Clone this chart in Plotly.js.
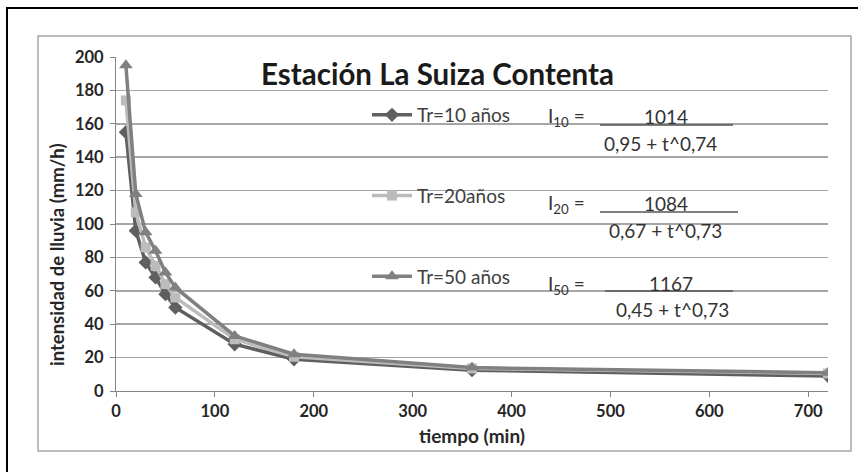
<!DOCTYPE html>
<html>
<head>
<meta charset="utf-8">
<script src="https://cdn.plot.ly/plotly-3.0.1.min.js"></script>
<style>
  html, body { margin: 0; padding: 0; background: #ffffff; }
  #chart { width: 858px; height: 472px; }
</style>
</head>
<body>
<div id="chart"></div>
<script>
// ---- data ----
const tiempo = [10, 20, 30, 40, 50, 60, 120, 180, 360, 720];
const tr10 = [155, 96, 77, 68, 58, 50, 28, 19, 12.5, 9];
const tr20 = [174, 107, 86, 75, 64, 56, 31, 20.5, 13.5, 10.5];
const tr50 = [195, 118, 95, 84, 71, 62, 33, 22, 14, 11];
const seriesNames = ['Tr=10 años', 'Tr=20años', 'Tr=50 años'];
const xTicks = [0, 100, 200, 300, 400, 500, 600, 700];
const yTicks = [0, 20, 40, 60, 80, 100, 120, 140, 160, 180, 200];
const chartTitle = 'Estación La Suiza Contenta';
const xTitle = 'tiempo (min)';
const yTitle = 'intensidad de lluvia (mm/h)';
const eqLabels = ['I<sub>10</sub> =', 'I<sub>20</sub> =', 'I<sub>50</sub> ='];
const eqNumerators = ['1014', '1084', '1167'];
const eqDenominators = ['0,95 + t^0,74', '0,67 + t^0,73', '0,45 + t^0,73'];

// ---- geometry ----
const W = 858, H = 472;
const M = { l: 116, r: 30, t: 57, b: 81 };
const PW = W - M.l - M.r, PH = H - M.t - M.b;
const px = v => (v - M.l) / PW;
const py = v => (H - M.b - v) / PH;

const FONT = 'Lato, "Open Sans", sans-serif';

const styles = [
  { color: '#5f5f5f', symbol: 'diamond', size: 11 },
  { color: '#bcbcbc', symbol: 'square', size: 10 },
  { color: '#808080', symbol: 'triangle-up', size: 12 }
];
const ys = [tr10, tr20, tr50];

const traces = ys.map((y, i) => ({
  x: tiempo, y: y, type: 'scatter', mode: 'lines+markers',
  name: seriesNames[i], legendgroup: 'g' + i,
  line: { color: styles[i].color, width: 3.5 },
  marker: { color: styles[i].color, symbol: styles[i].symbol, size: styles[i].size }
}));

// equations: positions in pixels
const eqRows = [
  { lab: 117, num: 116, line: 125, den: 143, lx0: 600, lx1: 733, nx: 666, dx: 660, labx: 566 },
  { lab: 204, num: 203, line: 212, den: 230, lx0: 600, lx1: 738, nx: 666, dx: 665, labx: 566 },
  { lab: 285, num: 283, line: 291, den: 309, lx0: 605, lx1: 733, nx: 671, dx: 672, labx: 566 }
];

const annotations = [];
const shapes = [];

// outer black frame (only left/top visible)
shapes.push({ type: 'rect', xref: 'paper', yref: 'paper', layer: 'below',
  x0: px(7), x1: px(870), y0: py(490), y1: py(8),
  line: { color: '#000000', width: 2 }, fillcolor: 'rgba(0,0,0,0)' });
// inner gray frame
shapes.push({ type: 'rect', xref: 'paper', yref: 'paper', layer: 'below',
  x0: px(38), x1: px(851), y0: py(451), y1: py(36),
  line: { color: '#a6a6a6', width: 1.5 }, fillcolor: 'rgba(0,0,0,0)' });

eqRows.forEach((r, i) => {
  annotations.push({ xref: 'paper', yref: 'paper', x: px(r.labx), y: py(r.lab),
    xanchor: 'center', yanchor: 'middle', showarrow: false,
    text: eqLabels[i], font: { family: FONT, size: 19, color: '#333333' } });
  annotations.push({ xref: 'paper', yref: 'paper', x: px(r.nx), y: py(r.num),
    xanchor: 'center', yanchor: 'middle', showarrow: false,
    text: eqNumerators[i], font: { family: FONT, size: 19, color: '#333333' } });
  annotations.push({ xref: 'paper', yref: 'paper', x: px(r.dx), y: py(r.den),
    xanchor: 'center', yanchor: 'middle', showarrow: false,
    text: eqDenominators[i], font: { family: FONT, size: 19, color: '#333333' } });
  shapes.push({ type: 'line', xref: 'paper', yref: 'paper',
    x0: px(r.lx0), x1: px(r.lx1), y0: py(r.line), y1: py(r.line),
    line: { color: '#555555', width: 1.5 } });
});

// y axis title (Excel places it off-centre)
annotations.push({ xref: 'paper', yref: 'paper', x: px(57), y: py(255),
  xanchor: 'center', yanchor: 'middle', showarrow: false, textangle: -90,
  text: '<b>' + yTitle + '</b>', font: { family: FONT, size: 18.5, color: '#262626' } });

const layout = {
  width: W, height: H,
  margin: M,
  paper_bgcolor: '#ffffff', plot_bgcolor: '#ffffff',
  showlegend: true,
  title: { text: '<b>' + chartTitle + '</b>', xref: 'paper', x: px(437.5),
    xanchor: 'center', yref: 'container', y: 1 - 75 / H, yanchor: 'middle',
    font: { family: FONT, size: 29.5, color: '#1a1a1a' } },
  legend: { x: px(367), y: py(96), xanchor: 'left', yanchor: 'top',
    bgcolor: 'rgba(0,0,0,0)', borderwidth: 0, tracegroupgap: 53,
    traceorder: 'grouped', itemwidth: 40,
    font: { family: FONT, size: 19, color: '#404040' } },
  xaxis: { range: [0, 720], tickvals: xTicks, ticktext: xTicks.map(String),
    showgrid: false, zeroline: false, showline: true, linecolor: '#868686', linewidth: 1,
    ticks: 'outside', ticklen: 5, tickcolor: '#868686',
    tickfont: { family: FONT, size: 16.5, color: '#262626', weight: 'bold' },
    title: { text: '<b>' + xTitle + '</b>', standoff: 9,
      font: { family: FONT, size: 19, color: '#262626' } } },
  yaxis: { range: [0, 200], tickvals: yTicks, ticktext: yTicks.map(String),
    showgrid: true, gridcolor: '#a6a6a6', gridwidth: 1.5,
    zeroline: false, showline: true, linecolor: '#868686', linewidth: 1,
    ticks: 'outside', ticklen: 5, tickcolor: '#868686', ticklabelstandoff: 3,
    tickfont: { family: FONT, size: 16.5, color: '#262626', weight: 'bold' } },
  annotations: annotations,
  shapes: shapes
};

Plotly.newPlot('chart', traces, layout, { displayModeBar: false, staticPlot: true });
</script>
</body>
</html>
